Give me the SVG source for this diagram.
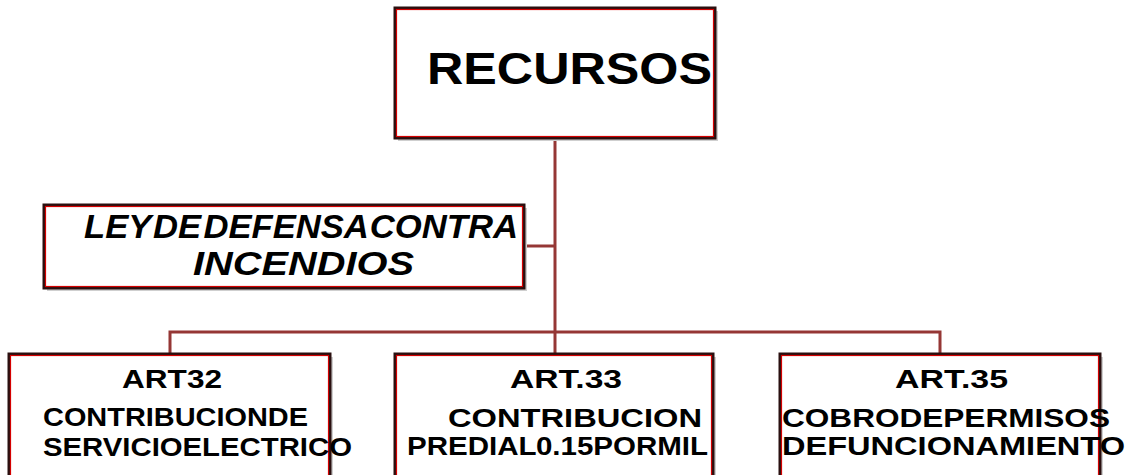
<svg xmlns="http://www.w3.org/2000/svg" width="1135" height="475" viewBox="0 0 1135 475">
<defs>
<style>
.box{fill:#ffffff;stroke:#2a1010;stroke-width:3}
.inner{fill:none;stroke:#d40000;stroke-width:1.2}
.shadow{fill:#cfcfcf}
.con{fill:none;stroke:#953735;stroke-width:3}
.t{font-family:"Liberation Sans",Arial,sans-serif;font-weight:bold;fill:#000000;word-spacing:-7px}
.it{font-style:italic}
</style>
</defs>
<g id="connectors">
<line class="con" x1="555" y1="138" x2="555" y2="354"/>
<line class="con" x1="524" y1="246" x2="555" y2="246"/>
<polyline class="con" points="170,354 170,332 940,332 940,354"/>
</g>
<g id="node-recursos">
<rect class="shadow" x="398" y="11" width="320" height="130"/>
<rect class="box" x="395" y="8" width="320" height="130"/>
<rect class="inner" x="396.5" y="9.5" width="317" height="127"/>
<text class="t" x="427" y="84" font-size="44" textLength="285" lengthAdjust="spacingAndGlyphs">RECURSOS</text>
</g>
<g id="node-ley">
<rect class="shadow" x="47" y="208" width="480" height="83"/>
<rect class="box" x="44" y="205" width="480" height="83"/>
<rect class="inner" x="45.5" y="206.5" width="477" height="80"/>
<text class="t it" x="84" y="238" font-size="33" textLength="434" lengthAdjust="spacingAndGlyphs">LEY DE DEFENSA CONTRA</text>
<text class="t it" x="193" y="275" font-size="33" textLength="221" lengthAdjust="spacingAndGlyphs">INCENDIOS</text>
</g>
<g id="node-art32">
<rect class="shadow" x="12" y="357" width="321" height="125"/>
<rect class="box" x="9" y="354" width="321" height="125"/>
<rect class="inner" x="10.5" y="355.5" width="318" height="122"/>
<text class="t" x="122" y="388" font-size="25" textLength="100" lengthAdjust="spacingAndGlyphs">ART32</text>
<text class="t" x="43" y="426" font-size="25" textLength="265" lengthAdjust="spacingAndGlyphs">CONTRIBUCION DE</text>
<text class="t" x="43" y="456" font-size="25" textLength="309" lengthAdjust="spacingAndGlyphs">SERVICIO ELECTRICO</text>
</g>
<g id="node-art33">
<rect class="shadow" x="398" y="357" width="318" height="125"/>
<rect class="box" x="395" y="354" width="318" height="125"/>
<rect class="inner" x="396.5" y="355.5" width="315" height="122"/>
<text class="t" x="510" y="388" font-size="25" textLength="112" lengthAdjust="spacingAndGlyphs">ART.33</text>
<text class="t" x="448" y="427" font-size="25" textLength="254" lengthAdjust="spacingAndGlyphs">CONTRIBUCION</text>
<text class="t" x="407" y="455" font-size="25" textLength="301" lengthAdjust="spacingAndGlyphs">PREDIAL 0.15 POR MIL</text>
</g>
<g id="node-art35">
<rect class="shadow" x="783" y="357" width="320" height="125"/>
<rect class="box" x="780" y="354" width="320" height="125"/>
<rect class="inner" x="781.5" y="355.5" width="317" height="122"/>
<text class="t" x="895" y="388" font-size="25" textLength="113" lengthAdjust="spacingAndGlyphs">ART.35</text>
<text class="t" x="782" y="427" font-size="25" textLength="328" lengthAdjust="spacingAndGlyphs">COBRO DE PERMISOS</text>
<text class="t" x="782" y="455" font-size="25" textLength="343" lengthAdjust="spacingAndGlyphs">DE FUNCIONAMIENTO</text>
</g>
</svg>
